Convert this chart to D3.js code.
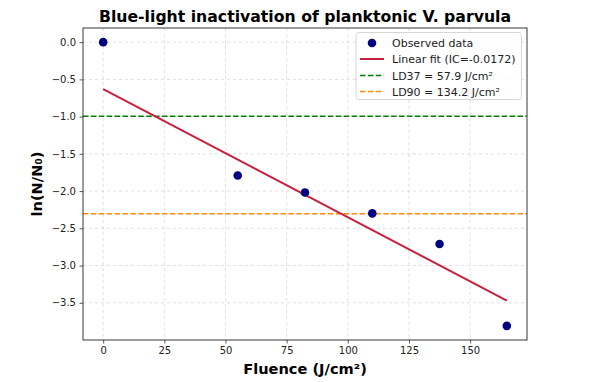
<!DOCTYPE html>
<html><head><meta charset="utf-8">
<script src="https://cdn.jsdelivr.net/npm/d3@7/dist/d3.min.js"></script>
<style>body{margin:0;background:#fff;} text{font-family:"DejaVu Sans",sans-serif;}</style>
</head><body>
<svg id="c" width="600" height="382"></svg>
<script>
const fluence = [0, 55, 82.5, 110, 137.5, 165];
const lnSurv = [0, -1.79, -2.02, -2.30, -2.71, -3.81];
const fitX = [0, 165];
const fitY = [-0.63, -3.47];
const ld37 = -0.994;
const ld90 = -2.303;
const xTicks = [0, 25, 50, 75, 100, 125, 150];
const yTicks = [0, -0.5, -1, -1.5, -2, -2.5, -3, -3.5];
const legendLabels = ["Observed data", "Linear fit (IC=-0.0172)", "LD37 = 57.9 J/cm²", "LD90 = 134.2 J/cm²"];

const svg = d3.select("#c");
const L = 83, R = 527, T = 28, B = 340;
const x = d3.scaleLinear().domain([-8.25, 173.25]).range([L, R]);
const y = d3.scaleLinear().domain([-4.0, 0.19]).range([B, T]);
const fmtY = d => d3.format(".1f")(d).replace("-", "\u2212");

// grid
const g = svg.append("g");
g.selectAll(".gx").data(xTicks).join("line")
  .attr("x1", d => x(d)).attr("x2", d => x(d)).attr("y1", T).attr("y2", B)
  .attr("stroke", "#b0b0b0").attr("stroke-opacity", 0.5).attr("stroke-width", 0.8).attr("stroke-dasharray", "3,3");
g.selectAll(".gy").data(yTicks).join("line")
  .attr("y1", d => y(d)).attr("y2", d => y(d)).attr("x1", L).attr("x2", R)
  .attr("stroke", "#b0b0b0").attr("stroke-opacity", 0.5).attr("stroke-width", 0.8).attr("stroke-dasharray", "3,3");

// axes
const xa = svg.append("g").attr("transform", `translate(0,${B})`)
  .call(d3.axisBottom(x).tickValues(xTicks).tickSize(3.5).tickPadding(3.5).tickFormat(d3.format("d")));
const ya = svg.append("g").attr("transform", `translate(${L},0)`)
  .call(d3.axisLeft(y).tickValues(yTicks).tickSize(3.5).tickPadding(3.5).tickFormat(fmtY));
[xa, ya].forEach(a => {
  a.select(".domain").remove();
  a.selectAll("text").attr("font-size", 10).attr("fill", "#222").attr("font-family", "DejaVu Sans");
  a.selectAll("line").attr("stroke", "#333").attr("stroke-width", 0.8);
});

// threshold lines
svg.append("line").attr("x1", L).attr("x2", R).attr("y1", y(ld37)).attr("y2", y(ld37))
  .attr("stroke", "#008000").attr("stroke-width", 1.5).attr("stroke-dasharray", "5.5,2.4");
svg.append("line").attr("x1", L).attr("x2", R).attr("y1", y(ld90)).attr("y2", y(ld90))
  .attr("stroke", "#ff8c00").attr("stroke-width", 1.5).attr("stroke-dasharray", "5.5,2.4");

// fit line
svg.append("path").datum(fitX.map((d, i) => [d, fitY[i]]))
  .attr("d", d3.line().x(d => x(d[0])).y(d => y(d[1])))
  .attr("fill", "none").attr("stroke", "#c8203f").attr("stroke-width", 2);

// points
svg.selectAll(".pt").data(fluence.map((d, i) => [d, lnSurv[i]])).join("circle")
  .attr("cx", d => x(d[0])).attr("cy", d => y(d[1])).attr("r", 4.3).attr("fill", "#000080");

// frame
svg.append("rect").attr("x", L).attr("y", T).attr("width", R - L).attr("height", B - T)
  .attr("fill", "none").attr("stroke", "#222").attr("stroke-width", 0.9);

// title & labels
svg.append("text").attr("x", (L + R) / 2).attr("y", 21.5).attr("text-anchor", "middle")
  .attr("font-size", 15.7).attr("font-weight", "bold").text("Blue-light inactivation of planktonic V. parvula");
svg.append("text").attr("x", (L + R) / 2).attr("y", 374).attr("text-anchor", "middle")
  .attr("font-size", 14.6).attr("font-weight", "bold").text("Fluence (J/cm²)");
svg.append("text").attr("transform", `translate(42,${(T + B) / 2}) rotate(-90)`).attr("text-anchor", "middle")
  .attr("font-size", 14.6).attr("font-weight", "bold").text("ln(N/N\u2080)");

// legend
const lg = svg.append("g");
lg.append("rect").attr("x", 356).attr("y", 32.5).attr("width", 165.5).attr("height", 67)
  .attr("rx", 3).attr("fill", "#fff").attr("fill-opacity", 0.8).attr("stroke", "#ccc").attr("stroke-width", 0.8);
const rows = [43, 59, 75.5, 91.5];
legendLabels.forEach((t, i) => {
  const yy = rows[i];
  if (i === 0) lg.append("circle").attr("cx", 372).attr("cy", yy).attr("r", 4.3).attr("fill", "#000080");
  else lg.append("line").attr("x1", 360).attr("x2", 384).attr("y1", yy).attr("y2", yy)
    .attr("stroke", ["", "#c8203f", "#008000", "#ff8c00"][i]).attr("stroke-width", i === 1 ? 2 : 1.5)
    .attr("stroke-dasharray", i === 1 ? null : "5.5,2.4");
  lg.append("text").attr("x", 392).attr("y", yy + 4).attr("font-size", 11).attr("fill", "#222").text(t);
});
</script>
</body></html>
